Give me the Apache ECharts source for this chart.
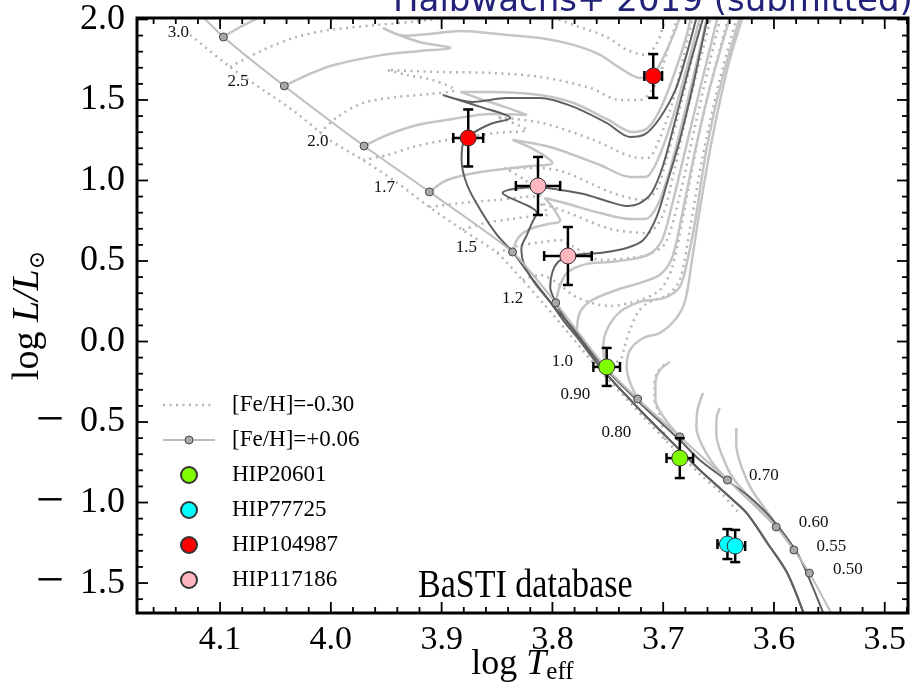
<!DOCTYPE html>
<html><head><meta charset="utf-8">
<script src="https://cdn.jsdelivr.net/npm/echarts@6/dist/echarts.min.js"></script>
<style>html,body{margin:0;padding:0;background:#fff}#c{width:920px;height:690px}</style>
</head><body><div id="c"></div>
<script>
// ---------- axis ranges ----------
const X_MIN = 3.479, X_MAX = 4.175;
const Y_MIN = -1.686, Y_MAX = 2.009;

// ---------- ZAMS [Fe/H]=+0.06 with mass markers ----------
const zamsMass = ['3.0','2.5','2.0','1.7','1.5','1.2','1.0','0.90','0.80','0.70','0.60','0.55','0.50'];
const zamsTeff = [4.097,4.042,3.970,3.911,3.836,3.797,3.753,3.723,3.685,3.642,3.598,3.582,3.568];
const zamsLum  = [1.891,1.587,1.214,0.929,0.556,0.240,-0.152,-0.357,-0.592,-0.860,-1.152,-1.295,-1.438];
const zamsHotEnd = [[4.118,2.034]];
const zamsCoolEnd = [[3.557,-1.575],[3.545,-1.730]];

// ---------- ZAMS [Fe/H]=-0.30 ----------
const zamsPoor = [[4.127,1.904],[4.091,1.705],[4.061,1.562],[4.031,1.419],[4.001,1.252],[3.971,1.127],[3.940,0.985],[3.911,0.835],[3.881,0.693],[3.850,0.550],[3.827,0.382],[3.807,0.227],[3.784,0.040],[3.759,-0.165],[3.728,-0.394],[3.698,-0.612],[3.667,-0.823],[3.647,-0.947],[3.631,-1.071]];

// ---------- tracks [Fe/H]=+0.06 ----------
const solid30 = [[4.097,1.891],[4.082,1.953],[4.066,2.009],[4.055,2.059]];
const solid25 = [[4.042,1.587],[4.019,1.662],[3.998,1.716],[3.953,1.780],[3.920,1.804],[3.892,1.823],[3.920,1.860],[3.947,1.926],[3.953,1.947],[3.933,1.898],[3.911,1.910],[3.883,1.928],[3.841,1.904],[3.811,1.885],[3.781,1.842],[3.757,1.780],[3.739,1.699],[3.721,1.637],[3.710,1.649],[3.701,1.748],[3.689,1.935],[3.683,2.059]];
const solid20 = [[3.970,1.214],[3.949,1.283],[3.922,1.345],[3.890,1.382],[3.856,1.413],[3.823,1.407],[3.843,1.457],[3.865,1.506],[3.883,1.550],[3.856,1.550],[3.811,1.531],[3.781,1.481],[3.751,1.382],[3.728,1.301],[3.714,1.326],[3.703,1.438],[3.692,1.624],[3.680,1.873],[3.673,2.071]];
const solid17 = [[3.911,0.929],[3.895,1.003],[3.865,1.053],[3.820,1.090],[3.800,1.109],[3.816,1.190],[3.836,1.252],[3.802,1.208],[3.757,1.096],[3.730,1.022],[3.716,1.022],[3.705,1.127],[3.692,1.376],[3.678,1.717],[3.667,2.009],[3.664,2.090]];
const solid15 = [[3.836,0.556],[3.831,0.643],[3.820,0.699],[3.804,0.730],[3.793,0.749],[3.800,0.836],[3.807,0.891],[3.789,0.860],[3.757,0.798],[3.730,0.761],[3.716,0.761],[3.705,0.848],[3.694,1.065],[3.680,1.438],[3.665,1.873],[3.658,2.090]];
const solid12 = [[3.797,0.240],[3.793,0.351],[3.786,0.432],[3.769,0.482],[3.748,0.494],[3.727,0.513],[3.712,0.544],[3.701,0.630],[3.692,0.848],[3.680,1.190],[3.667,1.562],[3.651,2.009],[3.647,2.121]];
const solid11 = [[3.778,0.072],[3.775,0.184],[3.764,0.258],[3.742,0.320],[3.721,0.364],[3.703,0.414],[3.692,0.519],[3.683,0.786],[3.671,1.190],[3.656,1.624],[3.635,2.121]];
const solid10 = [[3.753,-0.152],[3.754,-0.021],[3.750,0.084],[3.739,0.184],[3.721,0.246],[3.699,0.271],[3.685,0.339],[3.678,0.507],[3.671,0.755],[3.661,1.190],[3.647,1.624],[3.626,2.121]];
const solid09 = [[3.723,-0.357],[3.730,-0.252],[3.733,-0.158],[3.730,-0.053],[3.718,0.022],[3.703,0.053],[3.688,0.146],[3.680,0.258],[3.674,0.506],[3.667,0.817],[3.656,1.252],[3.640,1.748],[3.620,2.183]];
const solid08 = [[3.685,-0.593],[3.699,-0.475],[3.707,-0.363],[3.707,-0.258],[3.703,-0.177],[3.694,-0.127]];
const solid07 = [[3.642,-0.860],[3.656,-0.748],[3.665,-0.643],[3.670,-0.537],[3.669,-0.425],[3.664,-0.320]];
const solid06 = [[3.598,-1.152],[3.620,-0.984],[3.637,-0.848],[3.647,-0.705],[3.652,-0.581],[3.652,-0.487],[3.649,-0.413]];
const solid055 = [[3.582,-1.295],[3.604,-1.077],[3.620,-0.922],[3.629,-0.785],[3.634,-0.643],[3.634,-0.537]];

// ---------- tracks [Fe/H]=-0.30 ----------
const poorA = [[4.091,1.705],[4.061,1.811],[4.031,1.891],[4.001,1.935],[3.958,1.966],[3.911,1.997],[3.865,2.047],[3.811,2.034],[3.781,1.966],[3.751,1.891],[3.733,1.811],[3.716,1.780],[3.705,1.860],[3.698,2.009],[3.694,2.090]];
const poorB = [[4.010,1.295],[3.994,1.394],[3.971,1.481],[3.940,1.519],[3.911,1.537],[3.888,1.562],[3.908,1.624],[3.931,1.655],[3.949,1.686],[3.902,1.674],[3.856,1.668],[3.811,1.643],[3.766,1.575],[3.739,1.500],[3.721,1.500],[3.707,1.593],[3.696,1.811],[3.685,2.059]];
const poorC = [[3.971,1.127],[3.949,1.158],[3.926,1.208],[3.895,1.252],[3.850,1.295],[3.823,1.314],[3.838,1.364],[3.850,1.394],[3.809,1.357],[3.763,1.252],[3.727,1.146],[3.714,1.140],[3.703,1.264],[3.691,1.500],[3.678,1.873],[3.672,2.059]];
const poorD = [[3.911,0.835],[3.883,0.860],[3.850,0.879],[3.825,0.898],[3.811,0.910],[3.825,1.003],[3.843,1.078],[3.811,1.078],[3.787,1.047],[3.748,0.929],[3.718,0.879],[3.706,0.941],[3.696,1.159],[3.683,1.500],[3.670,1.873],[3.662,2.090]];
const poorE = [[3.881,0.693],[3.861,0.736],[3.837,0.761],[3.816,0.780],[3.804,0.792],[3.811,0.860],[3.787,0.804],[3.748,0.699],[3.715,0.674],[3.701,0.773],[3.691,1.034],[3.678,1.438],[3.662,1.873],[3.654,2.090]];
const poorF = [[3.850,0.550],[3.831,0.593],[3.809,0.618],[3.793,0.630],[3.782,0.593],[3.757,0.506],[3.730,0.519],[3.712,0.544],[3.698,0.612],[3.685,0.910],[3.670,1.376],[3.651,1.935],[3.645,2.090]];
const poorG = [[3.827,0.382],[3.811,0.413],[3.797,0.370],[3.777,0.271],[3.748,0.221],[3.721,0.258],[3.703,0.320],[3.692,0.457],[3.680,0.848],[3.665,1.376],[3.642,1.997],[3.637,2.121]];
const poorH = [[3.759,-0.165],[3.739,-0.115],[3.735,-0.034],[3.730,0.072],[3.723,0.178],[3.714,0.240],[3.696,0.289],[3.685,0.382],[3.676,0.693],[3.665,1.127],[3.649,1.624],[3.629,2.121]];
const poorI = [[3.698,-0.612],[3.703,-0.457],[3.708,-0.351],[3.708,-0.270],[3.705,-0.189],[3.696,-0.127]];

// ---------- dark isochrones ----------
const isoA = [[3.553,-1.730],[3.565,-1.525],[3.579,-1.314],[3.601,-1.109],[3.622,-0.966],[3.643,-0.860],[3.667,-0.736],[3.685,-0.612],[3.721,-0.382],[3.757,-0.134],[3.780,0.071],[3.796,0.196],[3.816,0.370],[3.836,0.556],[3.850,0.662],[3.865,0.817],[3.877,0.972],[3.882,1.127],[3.881,1.221],[3.874,1.283],[3.856,1.351],[3.838,1.388],[3.865,1.457],[3.899,1.531],[3.872,1.488],[3.841,1.512],[3.811,1.512],[3.781,1.457],[3.751,1.357],[3.730,1.270],[3.716,1.289],[3.703,1.388],[3.689,1.562],[3.679,1.780],[3.670,2.009],[3.667,2.090]];
const isoB = [[3.571,-1.730],[3.588,-1.438],[3.606,-1.251],[3.624,-1.071],[3.637,-0.984],[3.667,-0.798],[3.685,-0.674],[3.721,-0.425],[3.757,-0.158],[3.778,0.028],[3.789,0.121],[3.802,0.245],[3.816,0.363],[3.826,0.488],[3.828,0.581],[3.823,0.662],[3.818,0.742],[3.814,0.798],[3.845,0.922],[3.813,0.960],[3.793,0.941],[3.772,0.916],[3.751,0.873],[3.733,0.842],[3.721,0.860],[3.710,0.929],[3.700,1.096],[3.689,1.376],[3.676,1.717],[3.664,2.009],[3.661,2.090]];
const isoC = [[3.571,-1.730],[3.588,-1.438],[3.606,-1.251],[3.624,-1.071],[3.637,-0.984],[3.667,-0.798],[3.685,-0.674],[3.721,-0.425],[3.757,-0.158],[3.771,-0.022],[3.780,0.059],[3.789,0.146],[3.798,0.258],[3.802,0.339],[3.800,0.432],[3.795,0.494],[3.786,0.531],[3.771,0.544],[3.757,0.550],[3.733,0.581],[3.718,0.630],[3.706,0.773],[3.697,0.972],[3.685,1.252],[3.673,1.593],[3.660,2.009],[3.656,2.121]];

// ---------- stars: [logTeff, logL] and [err logTeff, err logL] ----------
const hip20601 = [[3.751,-0.158],[3.685,-0.724]];
const hip20601Err = [[0.012,0.118],[0.012,0.124]];
const hip77725 = [[3.642,-1.258],[3.635,-1.270]];
const hip77725Err = [[0.009,0.093],[0.009,0.100]];
const hip104987 = [[3.876,1.264],[3.709,1.649]];
const hip104987Err = [[0.0135,0.177],[0.008,0.136]];
const hip117186 = [[3.813,0.966],[3.786,0.531]];
const hip117186Err = [[0.020,0.180],[0.0215,0.180]];

// ---------- styles ----------
const SERIF = '"Liberation Serif", "Times New Roman", serif';
const labelSide = ['left','left','left','left','left','left','left','left','left','right','right','right','right'];
const labelDist = [30,31,31,30,31,28,27,43,44,17,18,18,19];
const solidStyle = {color:'#c4c4c4', width:2.5};
const dotStyle = {color:'#b3b3b3', width:2.5, type:[2,4.5]};
const darkStyle = {color:'#606060', width:2};

function svgIcon(inner) {
  return 'image://data:image/svg+xml;charset=utf-8,' + encodeURIComponent(
    "<svg xmlns='http://www.w3.org/2000/svg' width='52' height='16' viewBox='0 0 52 16'>" + inner + "</svg>");
}
const iconPoor = svgIcon("<line x1='0' y1='8' x2='52' y2='8' stroke='#b3b3b3' stroke-width='2.5' stroke-dasharray='2 4.5'/>");
const iconSolar = svgIcon("<line x1='0' y1='8' x2='52' y2='8' stroke='#bdbdbd' stroke-width='2.2'/><circle cx='26' cy='8' r='4' fill='#a9a9a9' stroke='#444' stroke-width='1'/>");

function trackSeries(data, style, name) {
  return {type:'line', name: name || '_trk', data: data, showSymbol:false, symbol:'none', smooth:0.3,
    lineStyle: style, silent:true, z:2, clip:true};
}

const series = [];
series.push(trackSeries(zamsPoor, dotStyle, '[Fe/H]=-0.30'));
[poorA,poorB,poorC,poorD,poorE,poorF,poorG,poorH,poorI].forEach(d => series.push(trackSeries(d, dotStyle)));
[solid30,solid25,solid20,solid17,solid15,solid12,solid11,solid10,solid09,solid08,solid07,solid06,solid055].forEach(d => series.push(trackSeries(d, solidStyle)));
[isoA,isoB,isoC].forEach(d => { const s = trackSeries(d, darkStyle); s.z = 3; series.push(s); });

// ZAMS solid with markers and mass labels
const zamsData = [];
zamsHotEnd.forEach(p => zamsData.push({value:p, symbol:'none'}));
zamsTeff.forEach((t,i) => zamsData.push({
  value:[t, zamsLum[i]],
  label:{show:true, formatter:zamsMass[i], position:labelSide[i], distance:labelDist[i], offset:[0,-4],
    fontFamily:SERIF, fontSize:17, color:'#111'}
}));
zamsCoolEnd.forEach(p => zamsData.push({value:p, symbol:'none'}));
series.push({type:'line', name:'[Fe/H]=+0.06', data:zamsData, symbol:'circle', symbolSize:8, showSymbol:true,
  showAllSymbol:true, smooth:0.2, lineStyle:{color:'#bdbdbd', width:2},
  itemStyle:{color:'#a9a9a9', borderColor:'#444', borderWidth:1}, z:4, silent:true, clip:true});

// error bars
function errRender(params, api) {
  const x = api.value(0), y = api.value(1), ex = api.value(2), ey = api.value(3);
  const c = api.coord([x, y]);
  const a = api.coord([x + ex, y]), b = api.coord([x - ex, y]);
  const t = api.coord([x, y + ey]), d = api.coord([x, y - ey]);
  const cap = 5, st = {stroke:'#000', lineWidth:2.5};
  return {type:'group', children:[
    {type:'line', shape:{x1:a[0], y1:c[1], x2:b[0], y2:c[1]}, style:st},
    {type:'line', shape:{x1:c[0], y1:t[1], x2:c[0], y2:d[1]}, style:st},
    {type:'line', shape:{x1:a[0], y1:c[1]-cap, x2:a[0], y2:c[1]+cap}, style:st},
    {type:'line', shape:{x1:b[0], y1:c[1]-cap, x2:b[0], y2:c[1]+cap}, style:st},
    {type:'line', shape:{x1:c[0]-cap, y1:t[1], x2:c[0]+cap, y2:t[1]}, style:st},
    {type:'line', shape:{x1:c[0]-cap, y1:d[1], x2:c[0]+cap, y2:d[1]}, style:st}
  ]};
}
const starSets = [
  {name:'HIP20601', pts:hip20601, err:hip20601Err, color:'#7fff00'},
  {name:'HIP77725', pts:hip77725, err:hip77725Err, color:'#00ffff'},
  {name:'HIP104987', pts:hip104987, err:hip104987Err, color:'#ff0000'},
  {name:'HIP117186', pts:hip117186, err:hip117186Err, color:'#ffb6c1'}
];
starSets.forEach(s => {
  series.push({type:'custom', name:s.name + ' err', renderItem:errRender, silent:true, z:6,
    data: s.pts.map((p,i) => [p[0], p[1], s.err[i][0], s.err[i][1]])});
});
starSets.forEach(s => {
  series.push({type:'scatter', name:s.name, data:s.pts, symbol:'circle', symbolSize:16,
    itemStyle:{color:s.color, borderColor:'#333', borderWidth:1, opacity:1}, z:7, silent:true});
});

// tick marks on all four sides (inside)
function tickRender(params, api) {
  const cs = params.coordSys;
  const x0 = cs.x, x1 = cs.x + cs.width, y0 = cs.y, y1 = cs.y + cs.height;
  const ch = [], st = {stroke:'#000', lineWidth:1.8};
  for (let i = 170; i <= 210; i++) {
    const v = i * 0.02;
    if (v <= X_MIN || v >= X_MAX) continue;
    const px = api.coord([v, 0])[0];
    const L = (i % 5 === 0) ? 11 : 6;
    ch.push({type:'line', shape:{x1:px, y1:y1, x2:px, y2:y1 - L}, style:st});
    ch.push({type:'line', shape:{x1:px, y1:y0, x2:px, y2:y0 + L}, style:st});
  }
  for (let j = -17; j <= 20; j++) {
    const v = j * 0.1;
    if (v <= Y_MIN || v >= Y_MAX + 0.001) continue;
    const py = api.coord([3.8, v])[1];
    const L = (j % 5 === 0) ? 11 : 6;
    ch.push({type:'line', shape:{x1:x0, y1:py, x2:x0 + L, y2:py}, style:st});
    ch.push({type:'line', shape:{x1:x1, y1:py, x2:x1 - L, y2:py}, style:st});
  }
  return {type:'group', children:ch};
}
series.push({type:'custom', name:'ticks', renderItem:tickRender, data:[[3.8,0]], clip:false, silent:true, z:9});

const fmtY = v => v < 0 ? '{m|\u2212}' + Math.abs(v).toFixed(1) : v.toFixed(1);

const option = {
  animation:false,
  backgroundColor:'#fff',
  grid:{left:137, right:12, top:18, bottom:77, show:false, containLabel:false, outerBoundsMode:'none'},
  xAxis:{type:'value', inverse:true, min:X_MIN, max:X_MAX, splitNumber:7,
    axisLine:{show:false}, axisTick:{show:false}, splitLine:{show:false},
    axisLabel:{showMinLabel:false, showMaxLabel:false, formatter:v => v.toFixed(1),
      fontFamily:SERIF, fontSize:34, color:'#000', margin:10},
    name:'{a|log }{b|T}{c|eff}', nameLocation:'middle', nameGap:32, nameMoveOverlap:false,
    nameTextStyle:{rich:{
      a:{fontFamily:SERIF, fontSize:36, color:'#000', lineHeight:40},
      b:{fontFamily:SERIF, fontSize:36, fontStyle:'italic', color:'#000', lineHeight:40},
      c:{fontFamily:SERIF, fontSize:25, color:'#000', lineHeight:22, verticalAlign:'bottom'}}}
  },
  yAxis:{type:'value', min:Y_MIN, max:Y_MAX, splitNumber:7,
    axisLine:{show:false}, axisTick:{show:false}, splitLine:{show:false},
    axisLabel:{showMinLabel:false, showMaxLabel:false, formatter:fmtY,
      fontFamily:SERIF, fontSize:36, color:'#000', margin:12,
      rich:{m:{fontFamily:SERIF, fontSize:50, lineHeight:36, color:'#000', padding:[0,16,0,0]}}},
    name:'{a|log }{b|L/L}{c|\u2299}', nameLocation:'middle', nameRotate:90, nameGap:88, nameMoveOverlap:false,
    nameTextStyle:{rich:{
      a:{fontFamily:SERIF, fontSize:38, color:'#000', lineHeight:42},
      b:{fontFamily:SERIF, fontSize:38, fontStyle:'italic', color:'#000', lineHeight:42},
      c:{fontFamily:'"DejaVu Serif", serif', fontSize:22, color:'#000', lineHeight:22, verticalAlign:'bottom'}}}
  },
  legend:{data:[
      {name:'[Fe/H]=-0.30', icon:iconPoor},
      {name:'[Fe/H]=+0.06', icon:iconSolar},
      'HIP20601','HIP77725','HIP104987','HIP117186'],
    orient:'vertical', left:158, top:387, itemWidth:52, itemHeight:16, itemGap:9, selectedMode:false,
    textStyle:{fontFamily:SERIF, fontSize:23, color:'#000', lineHeight:26, padding:[0,0,0,12]}},
  graphic:{elements:[
    {type:'rect', shape:{x:137, y:18, width:771, height:595}, style:{fill:'none', stroke:'#000', lineWidth:3}, z:100, silent:true},
    {type:'text', x:418, y:607, scaleX:0.83, style:{text:'BaSTI database', font:'41px "Liberation Serif"', fill:'#000', verticalAlign:'bottom'}, z:100},
    {type:'text', x:393, y:19, style:{text:'Halbwachs+ 2019 (submitted)', font:'34px "DejaVu Sans"', fill:'#23237a', verticalAlign:'bottom'}, z:100}
  ]},
  series:series
};

const chart = echarts.init(document.getElementById('c'), null, {renderer:'canvas'});
chart.setOption(option);
</script></body></html>
